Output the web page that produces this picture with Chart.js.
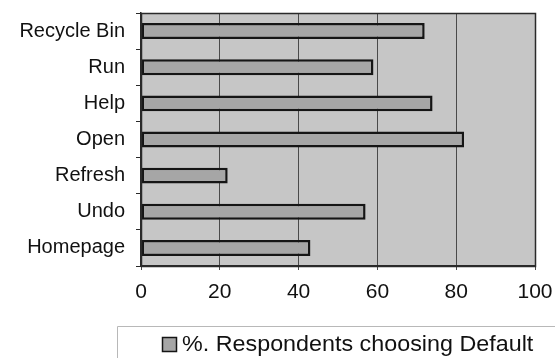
<!DOCTYPE html>
<html>
<head>
<meta charset="utf-8">
<script src="https://cdn.jsdelivr.net/npm/chart.js@4/dist/chart.umd.min.js"></script>
<style>
  html, body { margin: 0; padding: 0; background: #ffffff; }
  #wrap { width: 555px; height: 358px; }
</style>
</head>
<body>
<div id="wrap"><canvas id="c" width="555" height="358"></canvas></div>
<script>
// Share of respondents choosing the default, per interface element
const categories = ['Recycle Bin', 'Run', 'Help', 'Open', 'Refresh', 'Undo', 'Homepage'];
const defaultShare = [72, 59, 74, 82, 22, 57, 43];
const seriesLabel = '%. Respondents choosing Default';
const xTicks = [0, 20, 40, 60, 80, 100];

const FONT = 'Liberation Sans, Arial, sans-serif';
const PLOT_BG = '#c6c6c6';
const BAR_FILL = '#a6a6a6';
const BAR_EDGE = '#151515';

// Grey plot background behind grid and bars
const plotBackground = {
  id: 'plotBackground',
  beforeDraw(chart) {
    const { ctx, chartArea: a } = chart;
    ctx.save();
    ctx.fillStyle = PLOT_BG;
    ctx.fillRect(a.left, a.top, a.right - a.left, a.bottom - a.top);
    ctx.restore();
  }
};

// Frame around the plot and the boxed legend below the axis
const frameAndLegend = {
  id: 'frameAndLegend',
  afterDraw(chart) {
    const { ctx, chartArea: a } = chart;
    ctx.save();
    ctx.strokeStyle = '#2a2a2a';
    ctx.lineWidth = 1.5;
    ctx.strokeRect(a.left + 0.5, a.top + 0.5, a.right - a.left, a.bottom - a.top);

    // legend frame (open to the right and bottom)
    ctx.strokeStyle = '#b8b8b8';
    ctx.lineWidth = 1;
    ctx.beginPath();
    ctx.moveTo(117.5, 358);
    ctx.lineTo(117.5, 326.5);
    ctx.lineTo(555, 326.5);
    ctx.stroke();

    const ds = chart.data.datasets[0];
    ctx.fillStyle = ds.backgroundColor;
    ctx.fillRect(162, 337, 15, 15);
    ctx.strokeStyle = ds.borderColor;
    ctx.lineWidth = 1.5;
    ctx.strokeRect(162.5, 337.5, 14, 14);

    ctx.fillStyle = '#111111';
    ctx.font = '22px ' + FONT;
    ctx.textBaseline = 'middle';
    ctx.textAlign = 'left';
    ctx.translate(182, 345);
    ctx.scale(1.06, 1);
    ctx.fillText(ds.label, 0, 0);
    ctx.restore();
  }
};

new Chart(document.getElementById('c'), {
  type: 'bar',
  data: {
    labels: categories,
    datasets: [{
      label: seriesLabel,
      data: defaultShare,
      backgroundColor: BAR_FILL,
      borderColor: BAR_EDGE,
      borderWidth: 2.5,
      borderSkipped: false,
      barPercentage: 0.44,
      categoryPercentage: 1.0
    }]
  },
  options: {
    indexAxis: 'y',
    responsive: false,
    animation: false,
    devicePixelRatio: 1,
    layout: { padding: { top: 13, right: 20, bottom: 52, left: 0 } },
    plugins: {
      legend: { display: false },
      tooltip: { enabled: false }
    },
    scales: {
      x: {
        min: 0,
        max: 100,
        afterFit(scale) {
          scale.height = 40;
          scale.paddingLeft = 0;
          scale.paddingRight = 0;
        },
        afterBuildTicks(scale) { scale.ticks = xTicks.map(v => ({ value: v })); },
        grid: {
          color: '#4a4a4a',
          lineWidth: 1,
          tickLength: 4,
          tickColor: '#4a4a4a'
        },
        border: { display: true, color: '#2a2a2a', width: 1.5 },
        ticks: {
          color: '#111111',
          font: { family: FONT, size: 21 },
          padding: 10,
          maxRotation: 0
        }
      },
      y: {
        afterFit(scale) {
          scale.width = 141;
          scale.paddingTop = 0;
          scale.paddingBottom = 0;
        },
        grid: {
          drawOnChartArea: false,
          offset: true,
          tickLength: 5,
          tickColor: '#2a2a2a'
        },
        border: { display: true, color: '#2a2a2a', width: 1.5 },
        ticks: {
          color: '#111111',
          font: { family: FONT, size: 20 },
          padding: 11
        }
      }
    }
  },
  plugins: [plotBackground, frameAndLegend]
});
</script>
</body>
</html>
